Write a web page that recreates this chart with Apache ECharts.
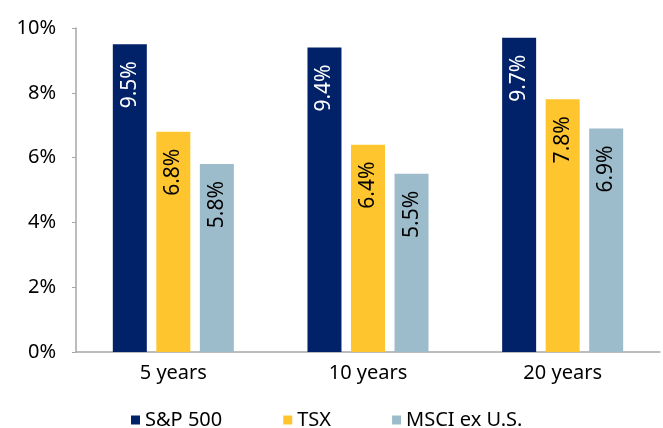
<!DOCTYPE html>
<html>
<head>
<meta charset="utf-8">
<script src="https://cdn.jsdelivr.net/npm/echarts@6/dist/echarts.min.js"></script>
<style>
  html, body { margin: 0; padding: 0; background: #fff; }
  #chart { width: 663px; height: 428px; }
</style>
</head>
<body>
<div id="chart"></div>
<script>
const periods = ['5 years', '10 years', '20 years']
const sp500 = [9.5, 9.4, 9.7]
const tsx = [6.8, 6.4, 7.8]
const msci = [5.8, 5.5, 6.9]

const font = 'Noto Sans'

const chart = echarts.init(document.getElementById('chart'))

// rotated value label sitting just under the top of each bar
const barLabel = (color) => ({
  show: true,
  position: 'insideTop',
  rotate: 90,
  align: 'right',
  verticalAlign: 'middle',
  distance: 17,
  color: color,
  fontFamily: font,
  fontSize: 21,
  formatter: p => p.value.toFixed(1) + '%'
})

const option = {
  animation: false,
  textStyle: { fontFamily: font },
  grid: { left: 76, right: 3, top: 28, bottom: 76 },
  legend: {
    left: 126,
    top: 405,
    icon: 'rect',
    itemWidth: 9,
    itemHeight: 9,
    itemGap: 61,
    textStyle: { fontFamily: font, fontSize: 20, color: '#000' },
    data: ['S&P 500', 'TSX', 'MSCI ex U.S.']
  },
  xAxis: {
    type: 'category',
    data: periods,
    axisLine: { lineStyle: { color: '#a6a6a6', width: 1.5 } },
    axisTick: { show: false },
    axisLabel: { color: '#000', fontSize: 20, fontFamily: font, margin: 11 }
  },
  yAxis: {
    type: 'value',
    min: 0,
    max: 10,
    interval: 2,
    axisLine: { show: true, lineStyle: { color: '#a6a6a6', width: 1.5 } },
    axisTick: { show: true, length: 4, lineStyle: { color: '#a6a6a6' } },
    splitLine: { show: false },
    axisLabel: { color: '#000', fontSize: 20, fontFamily: font, margin: 20, formatter: '{value}%' }
  },
  series: [
    {
      name: 'S&P 500', type: 'bar', data: sp500,
      barWidth: 34, barGap: '28%', barCategoryGap: '37%',
      itemStyle: { color: '#012169' },
      label: barLabel('#fff')
    },
    {
      name: 'TSX', type: 'bar', data: tsx,
      barWidth: 34,
      itemStyle: { color: '#fec52e' },
      label: barLabel('#000')
    },
    {
      name: 'MSCI ex U.S.', type: 'bar', data: msci,
      barWidth: 34,
      itemStyle: { color: '#9dbccb' },
      label: barLabel('#000')
    }
  ]
}

chart.setOption(option)
</script>
</body>
</html>
